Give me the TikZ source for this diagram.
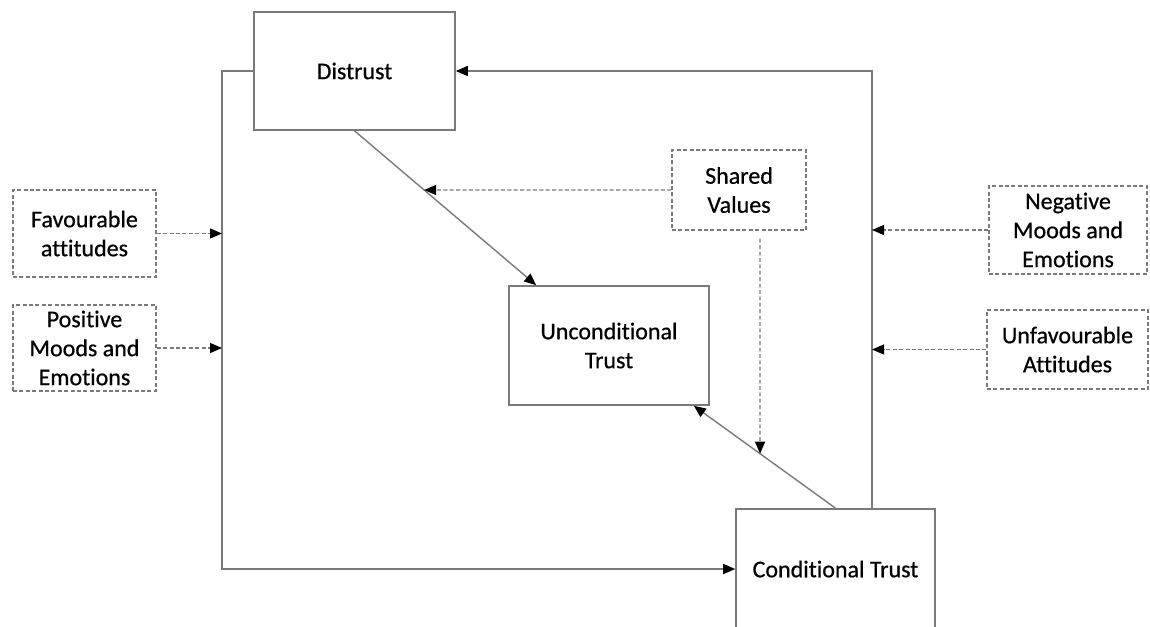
\documentclass[tikz,border=0pt]{standalone}
\usepackage{fontspec}
\setmainfont{Carlito}[Ligatures=NoCommon, FakeBold=0.6]
\usetikzlibrary{arrows.meta}
\definecolor{linegray}{HTML}{7A7A7A}
\begin{document}
\begin{tikzpicture}[x=0.5pt,y=-0.5pt,
  box/.style={draw=linegray, line width=0.8pt, align=center, inner sep=0pt,
    font=\fontsize{12}{14.5}\selectfont, text=black},
  dbox/.style={box, line width=0.7pt, dash pattern=on 2pt off 1.2pt},
  conn/.style={draw=linegray, line width=0.7pt},
  dconn/.style={conn, line width=0.65pt, dash pattern=on 2pt off 1.2pt},
  tip/.style={-{Triangle[length=6pt,width=5pt,color=black,fill=black]}}]
\useasboundingbox (0,0) rectangle (1150,626);
\clip (0,0) rectangle (1150,626);

% main states
\node[box, minimum width=100.5pt, minimum height=59pt] (D) at (354.5,71) {Distrust};
\node[box, minimum width=100pt, minimum height=59.5pt] (UT) at (609,345.5) {Unconditional\\Trust};
\node[box, minimum width=99.5pt, minimum height=60pt] (CT) at (835.5,569) {Conditional Trust};

% influencing factors
\node[dbox, minimum width=71.5pt, minimum height=43.5pt] (FA) at (84.5,233.5) {Favourable\\attitudes};
\node[dbox, minimum width=71.5pt, minimum height=43pt] (PM) at (84.5,348) {Positive\\Moods and\\Emotions};
\node[dbox, minimum width=67pt, minimum height=40pt] (SV) at (739,190) {Shared\\Values};
\node[dbox, minimum width=79pt, minimum height=44pt] (NM) at (1068,230) {Negative\\Moods and\\Emotions};
\node[dbox, minimum width=80.5pt, minimum height=39.5pt] (UA) at (1067.5,349.5) {Unfavourable\\Attitudes};

% routing points
\coordinate (lcorner) at (222,71);
\coordinate (rcorner) at (872,71);
\coordinate (utin) at ([xshift=14pt]UT.north west);
\coordinate (utout) at ([xshift=-8pt]UT.south east);
\coordinate (svtop) at ([xshift=10.5pt,yshift=-4pt]SV.south);
\coordinate (svbot) at (svtop |- CT.south);

% outer loop between distrust and conditional trust
\draw[conn, tip] (D.west) -- (lcorner) |- (CT.west);
\draw[conn, tip] (CT.north -| rcorner) -- (rcorner) -- (D.east);

% transitions into unconditional trust
\draw[conn, tip] (D.south) -- (utin);
\draw[conn, tip] (CT.north) -- (utout);

% shared values acting on both transitions
\draw[dconn, tip] (SV.west) -- (intersection of D.south--utin and SV.west--SV.east);
\draw[dconn, tip] (svtop) -- (intersection of CT.north--utout and svtop--svbot);

% factors acting on the outer loop
\draw[dconn, tip] (FA.east) -- (FA.east -| lcorner);
\draw[dconn, tip] (PM.east) -- (PM.east -| lcorner);
\draw[dconn, tip] (NM.west) -- (NM.west -| rcorner);
\draw[dconn, tip] (UA.west) -- (UA.west -| rcorner);
\end{tikzpicture}
\end{document}
